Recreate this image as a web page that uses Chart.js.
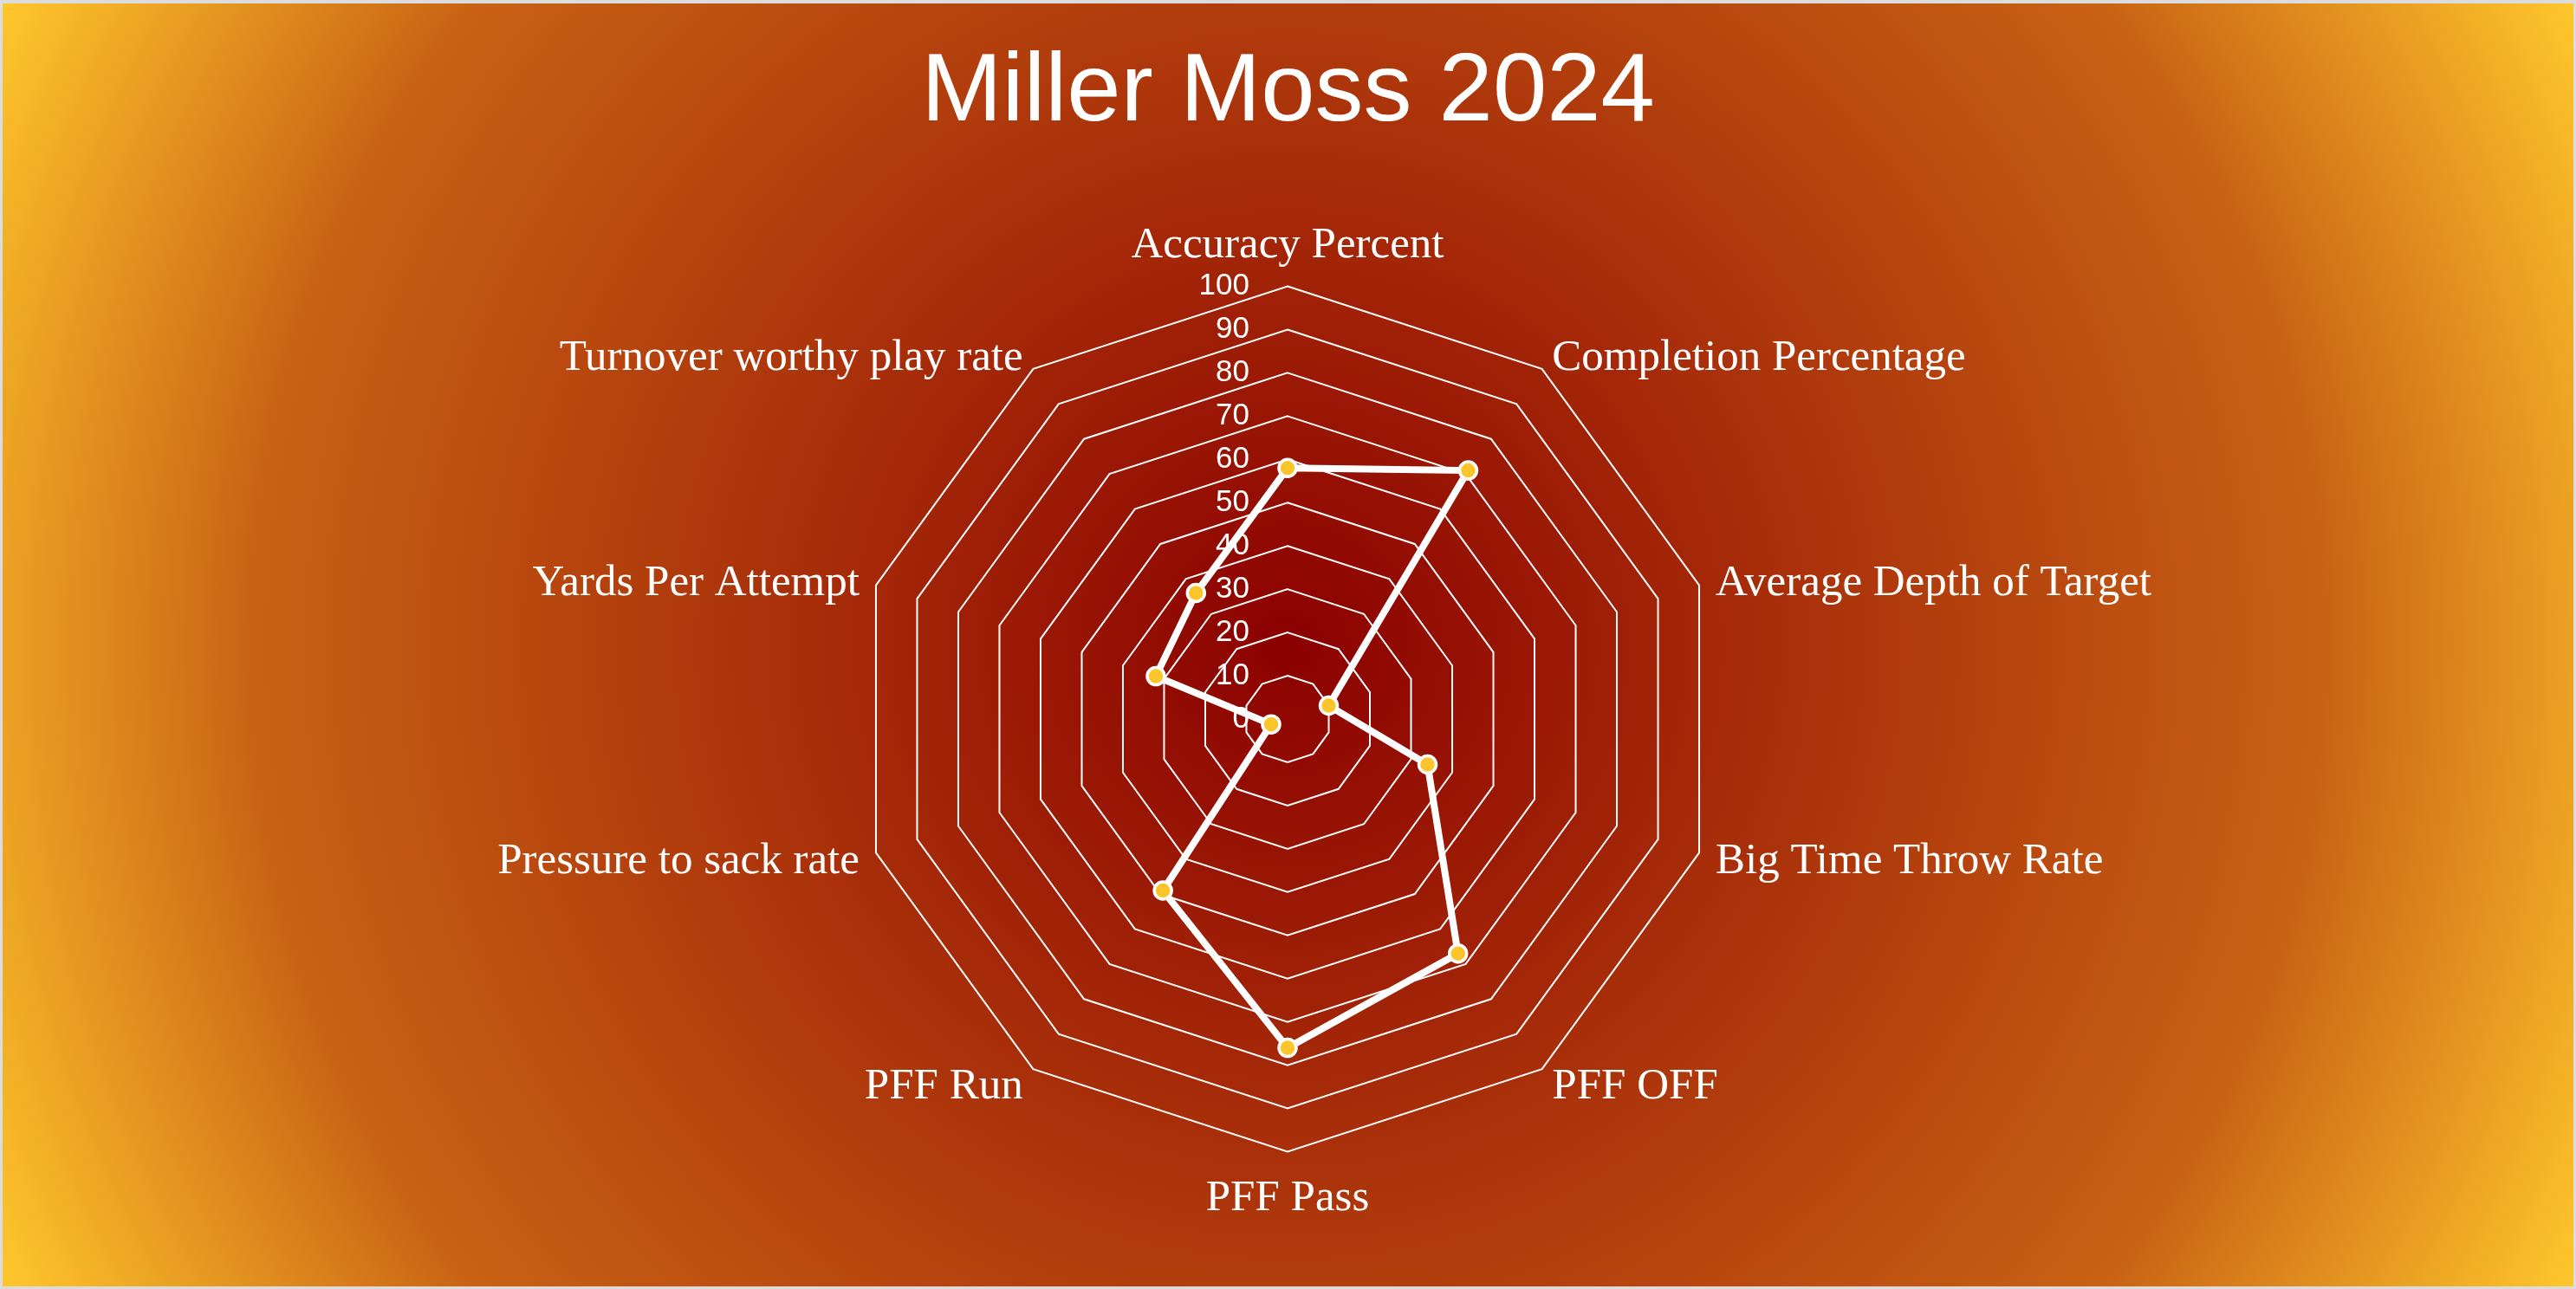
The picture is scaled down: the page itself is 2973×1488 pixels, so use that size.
<!DOCTYPE html>
<html>
<head>
<meta charset="utf-8">
<script src="https://cdn.jsdelivr.net/npm/chart.js@4.4.1/dist/chart.umd.min.js"></script>
<style>
  html, body { margin: 0; padding: 0; width: 2973px; height: 1488px; overflow: hidden; background: #dcdcdc; }
  #wrap {
    position: absolute; left: 3px; top: 4px; width: 2967px; height: 1481px;
    background: radial-gradient(circle farthest-corner at 50% 50%, #8B0000 0%, #C96214 72%, #FFC72C 100%);
  }
  canvas { display: block; }
</style>
</head>
<body>
<div id="wrap"><canvas id="c"></canvas></div>
<script>
const chartTitle = 'Miller Moss 2024';
const categories = [
  'Accuracy Percent',
  'Completion Percentage',
  'Average Depth of Target',
  'Big Time Throw Rate',
  'PFF OFF',
  'PFF Pass',
  'PFF Run',
  'Pressure to sack rate',
  'Yards Per Attempt',
  'Turnover worthy play rate'
];
const seriesValues = [58, 71, 10, 34, 67, 76, 49, 4, 32, 36];
const tickValues = [0, 10, 20, 30, 40, 50, 60, 70, 80, 90, 100];

const LABEL_PAD = 20;
const LABEL_FONT = '51px "Liberation Serif", "Times New Roman", serif';
const TICK_FONT = '35px "Liberation Sans", Arial, sans-serif';

const customText = {
  id: 'customText',
  beforeDatasetsDraw(chart) {
    const s = chart.scales.r;
    const ctx = chart.ctx;
    ctx.save();
    // tick labels, right-aligned left of the vertical axis
    ctx.font = TICK_FONT;
    ctx.fillStyle = '#ffffff';
    ctx.textAlign = 'right';
    ctx.textBaseline = 'middle';
    tickValues.forEach(v => {
      const d = s.getDistanceFromCenterForValue(v);
      ctx.fillText(String(v), s.xCenter - 44, s.yCenter - d);
    });
    // point labels
    ctx.font = LABEL_FONT;
    const n = chart.data.labels.length;
    chart.data.labels.forEach((lab, i) => {
      const p = s.getPointPosition(i, s.drawingArea + LABEL_PAD);
      const deg = Math.round(i * 360 / n);
      let align = 'left', y = p.y + 4;
      if (deg === 0) { align = 'center'; y = p.y - 27; }
      else if (deg === 180) { align = 'center'; y = p.y + 34; }
      else if (deg > 180) { align = 'right'; }
      ctx.textAlign = align;
      ctx.textBaseline = 'middle';
      ctx.fillText(lab, p.x, y);
    });
    ctx.restore();
  }
};

new Chart(document.getElementById('c'), {
  type: 'radar',
  data: {
    labels: categories,
    datasets: [{
      label: chartTitle,
      data: seriesValues,
      borderColor: '#ffffff',
      borderWidth: 8,
      backgroundColor: 'rgba(0,0,0,0)',
      fill: false,
      tension: 0,
      pointBackgroundColor: '#FDC52C',
      pointBorderColor: '#ffffff',
      pointBorderWidth: 3.5,
      pointRadius: 10,
      pointHoverRadius: 10
    }]
  },
  options: {
    responsive: true,
    maintainAspectRatio: false,
    animation: false,
    devicePixelRatio: 1,
    layout: { padding: { top: 0, bottom: 74.5, left: 0, right: 0 } },
    plugins: {
      legend: { display: false },
      tooltip: { enabled: false },
      title: {
        display: true,
        text: chartTitle,
        color: '#ffffff',
        font: { family: '"Liberation Sans", Arial, sans-serif', size: 112, weight: 'normal', lineHeight: 1.2 },
        padding: { top: 36.8, bottom: 75.3 }
      }
    },
    scales: {
      r: {
        min: 0,
        max: 100,
        angleLines: { display: false },
        grid: { color: '#ffffff', lineWidth: 2, circular: false },
        ticks: { display: false, stepSize: 10 },
        pointLabels: {
          display: true,
          color: 'rgba(0,0,0,0)',
          padding: LABEL_PAD,
          font: { family: '"Liberation Serif", "Times New Roman", serif', size: 50, lineHeight: 1.2 }
        }
      }
    }
  },
  plugins: [customText]
});
</script>
</body>
</html>
